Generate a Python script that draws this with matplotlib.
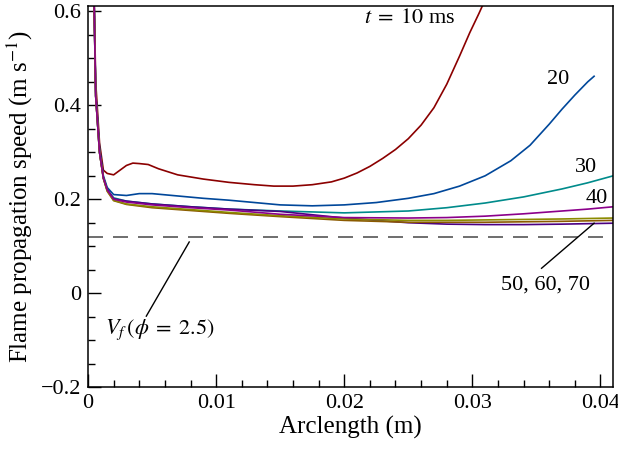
import numpy as np
import matplotlib.pyplot as plt
from matplotlib.ticker import MultipleLocator, FuncFormatter

plt.rcParams['font.family'] = ['Liberation Serif', 'DejaVu Serif']
plt.rcParams['mathtext.fontset'] = 'stix'

# arclength (m) and flame propagation speed (m/s)
x10 = [0.0003, 0.0006, 0.0009, 0.0012, 0.0015, 0.002, 0.0025, 0.003, 0.0035, 0.004,
       0.0047, 0.0055, 0.007, 0.009, 0.011, 0.013, 0.0145, 0.016, 0.0175, 0.019,
       0.020, 0.021, 0.022, 0.023, 0.024, 0.025, 0.026, 0.027, 0.028, 0.029,
       0.0298, 0.0305, 0.031]
v10 = [0.9, 0.45, 0.32, 0.262, 0.255, 0.252, 0.262, 0.272, 0.277, 0.276,
       0.274, 0.265, 0.252, 0.243, 0.236, 0.231, 0.228, 0.228, 0.231, 0.237,
       0.245, 0.256, 0.27, 0.287, 0.306, 0.329, 0.358, 0.395, 0.445, 0.505,
       0.555, 0.595, 0.625]

x20 = [0.0003, 0.0006, 0.0009, 0.0012, 0.0015, 0.002, 0.003, 0.004, 0.005, 0.007,
       0.009, 0.011, 0.013, 0.015, 0.0175, 0.02, 0.0225, 0.025, 0.027, 0.029,
       0.031, 0.033, 0.0345, 0.036, 0.037, 0.038, 0.039, 0.0395]
v20 = [0.9, 0.43, 0.31, 0.25, 0.225, 0.21, 0.208, 0.212, 0.212, 0.207,
       0.202, 0.198, 0.193, 0.188, 0.186, 0.188, 0.193, 0.202, 0.212, 0.228,
       0.25, 0.282, 0.315, 0.36, 0.392, 0.422, 0.45, 0.462]

xs = [0.0003, 0.0006, 0.0009, 0.0012, 0.0015, 0.002, 0.003, 0.005, 0.008, 0.011,
      0.015, 0.02, 0.025, 0.028, 0.031, 0.034, 0.037, 0.039, 0.041]
v30 = [0.9, 0.42, 0.30, 0.245, 0.22, 0.203, 0.196, 0.19, 0.184, 0.179,
       0.175, 0.171, 0.175, 0.182, 0.192, 0.205, 0.222, 0.235, 0.25]
v40 = [0.9, 0.42, 0.30, 0.245, 0.22, 0.2, 0.194, 0.188, 0.182, 0.177,
       0.168, 0.161, 0.16, 0.161, 0.164, 0.169, 0.175, 0.179, 0.184]
v50 = [0.9, 0.42, 0.30, 0.245, 0.218, 0.198, 0.19, 0.184, 0.178, 0.172,
       0.165, 0.158, 0.155, 0.155, 0.156, 0.157, 0.158, 0.159, 0.16]
v60 = [0.9, 0.42, 0.30, 0.244, 0.217, 0.197, 0.189, 0.182, 0.176, 0.170,
       0.163, 0.155, 0.151, 0.151, 0.151, 0.152, 0.153, 0.154, 0.155]
v70 = [0.9, 0.42, 0.30, 0.246, 0.221, 0.201, 0.196, 0.19, 0.184, 0.179,
       0.174, 0.16, 0.15, 0.147, 0.146, 0.146, 0.147, 0.148, 0.149]

vf = 0.12  # V_f at phi = 2.5

fig = plt.figure(figsize=(6.18, 4.49), dpi=100)
ax = fig.add_axes([0.1424, 0.138, 0.85, 0.849])

lw = 1.2
ax.plot(x10, v10, color='#8b0000', lw=lw)
ax.plot(x20, v20, color='#00479a', lw=lw)
ax.plot(xs, v30, color='#008b8b', lw=lw)
ax.plot(xs, v70, color='#4b0082', lw=lw)
ax.plot(xs, v60, color='#8b5a00', lw=lw)
ax.plot(xs, v50, color='#8b8b00', lw=lw)
ax.plot(xs, v40, color='#8b008b', lw=lw)
ax.axhline(vf, color='#555555', lw=1.2, dashes=(9, 6))

ax.set_xlim(0, 0.041)
ax.set_ylim(-0.2, 0.612)
ax.xaxis.set_major_locator(MultipleLocator(0.01))
ax.xaxis.set_minor_locator(MultipleLocator(0.002))
ax.yaxis.set_major_locator(MultipleLocator(0.2))
ax.yaxis.set_minor_locator(MultipleLocator(0.05))
fmt = FuncFormatter(lambda v, p: ('%g' % round(v, 4)).replace('-', '\u2212'))
ax.xaxis.set_major_formatter(fmt)
ax.yaxis.set_major_formatter(fmt)
ax.tick_params(which='both', direction='in', top=False, right=False, labelsize=16, width=1)
ax.tick_params(which='major', length=9.5, pad=5)
ax.tick_params(which='minor', length=5)
for s in ax.spines.values():
    s.set_linewidth(1.1)

ax.set_xlabel('Arclength (m)', fontsize=18, labelpad=2)
ax.set_ylabel('Flame propagation speed (m s$^{-1}$)', fontsize=18, labelpad=4)

ax.text(0.0251, 0.585, '$t\\;=\\;10$ ms', fontsize=16, ha='center', va='center')
ax.text(0.0367, 0.455, '20', fontsize=16, ha='center', va='center')
ax.text(0.0389, 0.268, '30', fontsize=16, ha='center', va='center')
ax.text(0.0397, 0.202, '40', fontsize=16, ha='center', va='center')
ax.text(0.0357, 0.018, '50, 60, 70', fontsize=16, ha='center', va='center')
ax.plot([0.0354, 0.0395], [0.053, 0.149], color='black', lw=1)
ax.text(0.0056, -0.079, '$V_f\\,(\\phi\\;=\\;2.5)$', fontsize=16, ha='center', va='center')
ax.plot([0.00455, 0.0079], [-0.049, 0.109], color='black', lw=1)

fig.savefig('out.png', dpi=100)
